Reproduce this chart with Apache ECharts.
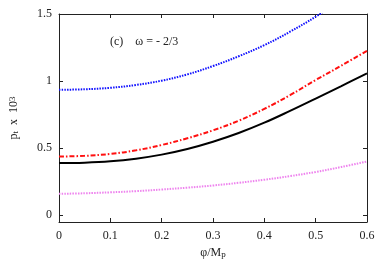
<!DOCTYPE html>
<html>
<head>
<meta charset="utf-8">
<script src="https://cdn.jsdelivr.net/npm/echarts@6/dist/echarts.min.js"></script>
<style>html,body{margin:0;padding:0;background:#fff}#c{width:389px;height:273px}</style>
</head>
<body>
<div id="c"></div>
<script>
const phi = [0, 0.05, 0.1, 0.15, 0.2, 0.25, 0.3, 0.35, 0.4, 0.45, 0.5, 0.55, 0.6];
const blueVals = [0.935, 0.939, 0.950, 0.971, 1.003, 1.050, 1.112, 1.185, 1.268, 1.368, 1.480, 1.610, 1.750];
const redVals = [0.438, 0.443, 0.457, 0.484, 0.524, 0.574, 0.633, 0.705, 0.793, 0.895, 1.008, 1.115, 1.226];
const blackVals = [0.389, 0.392, 0.402, 0.422, 0.452, 0.494, 0.548, 0.613, 0.690, 0.778, 0.870, 0.963, 1.058];
const violetVals = [0.160, 0.164, 0.171, 0.180, 0.192, 0.206, 0.222, 0.242, 0.265, 0.292, 0.323, 0.360, 0.401];
const yTicks = [0, 0.5, 1, 1.5];

const pairs = v => phi.map((x, i) => [x, v[i]]);
const font = 'Liberation Serif';
const ink = '#222';
const chart = echarts.init(document.getElementById('c'));
const axisLine = {show: true, onZero: false, lineStyle: {color: ink, width: 1}};
chart.setOption({
  animation: false,
  grid: {left: 58, right: 22, top: 14, bottom: 51},
  xAxis: [{
    type: 'value', min: 0, max: 0.6, interval: 0.1, position: 'bottom',
    axisLine: axisLine,
    axisTick: {inside: true, length: 4, lineStyle: {color: ink}},
    axisLabel: {fontFamily: font, fontSize: 12, color: ink, margin: 8},
    splitLine: {show: false},
    name: '{a|φ/M}{s|p}', nameLocation: 'middle', nameGap: 16,
    nameTextStyle: {rich: {a: {fontFamily: font, fontSize: 12, color: ink}, s: {fontFamily: font, fontSize: 9, color: ink, verticalAlign: 'bottom'}}}
  }, {
    type: 'value', min: 0, max: 0.6, interval: 0.1, position: 'top',
    axisLine: axisLine,
    axisTick: {inside: true, length: 4, lineStyle: {color: ink}},
    axisLabel: {show: false}, splitLine: {show: false}
  }],
  yAxis: [{
    type: 'value', min: -0.05, max: 1.5, position: 'left',
    axisLine: axisLine,
    axisTick: {inside: true, length: 4, customValues: yTicks, lineStyle: {color: ink}},
    axisLabel: {fontFamily: font, fontSize: 12, color: ink, margin: 7, customValues: yTicks},
    splitLine: {show: false},
    name: '{a|p}{s|t}{a|  x  10}{u|3}', nameLocation: 'middle', nameGap: 39, nameRotate: 90,
    nameTextStyle: {rich: {
      a: {fontFamily: font, fontSize: 12, color: ink},
      s: {fontFamily: font, fontSize: 9, color: ink, verticalAlign: 'bottom'},
      u: {fontFamily: font, fontSize: 9, color: ink, verticalAlign: 'top'}
    }}
  }, {
    type: 'value', min: -0.05, max: 1.5, position: 'right',
    axisLine: axisLine,
    axisTick: {inside: true, length: 4, customValues: yTicks, lineStyle: {color: ink}},
    axisLabel: {show: false}, splitLine: {show: false}
  }],
  graphic: [{
    type: 'text', left: 110, top: 36,
    style: {text: '(c)    ω = - 2/3', fontFamily: font, fontSize: 12, fill: ink}
  }],
  series: [
    {type: 'line', data: pairs(blueVals), smooth: 0.4, symbol: 'none', clip: true,
     lineStyle: {color: '#1010ff', width: 2, type: [1.5, 1.2]}},
    {type: 'line', data: pairs(redVals), smooth: 0.4, symbol: 'none', clip: true,
     lineStyle: {color: '#ff1010', width: 2, type: [5, 2, 1.5, 2]}},
    {type: 'line', data: pairs(blackVals), smooth: 0.4, symbol: 'none', clip: true,
     lineStyle: {color: '#000', width: 2}},
    {type: 'line', data: pairs(violetVals), smooth: 0.4, symbol: 'none', clip: true,
     lineStyle: {color: '#ee82ee', width: 2, type: [1.5, 1.2]}},
    {type: 'line', data: [], xAxisIndex: 1, yAxisIndex: 1, silent: true}
  ]
});
</script>
</body>
</html>
